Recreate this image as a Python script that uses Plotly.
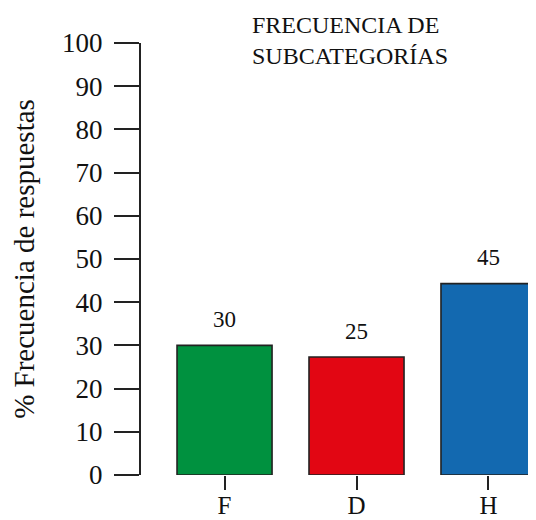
import plotly.graph_objects as go

categories = ["F", "D", "H"]
values = [30, 27.3, 44.3]
value_labels = ["30", "25", "45"]
colors = ["#00913F", "#E20613", "#1369B0"]
y_ticks = [0, 10, 20, 30, 40, 50, 60, 70, 80, 90, 100]

FONT = "Liberation Serif, 'Times New Roman', Times, serif"
INK = "#111111"

fig = go.Figure()
fig.add_trace(go.Bar(
    x=categories,
    y=values,
    width=0.72,
    marker=dict(color=colors, line=dict(color="#222222", width=1.6)),
    showlegend=False,
))

for cat, val, lab in zip(categories, values, value_labels):
    fig.add_annotation(
        x=cat, y=val, text=lab, showarrow=False,
        yshift=26, font=dict(family=FONT, size=23, color=INK),
    )

# chart title
fig.add_annotation(
    text="FRECUENCIA DE<br>SUBCATEGORÍAS",
    xref="paper", yref="paper",
    x=(242 - 133) / 395, xanchor="left",
    y=(467 - 2) / 432, yanchor="top",
    align="left", showarrow=False,
    font=dict(family=FONT, size=24, color=INK),
)

# page body has an 8px margin; figure sized so it ends at the window edge
fig.update_layout(
    width=528, height=512,
    margin=dict(l=133, r=0, t=35, b=45, autoexpand=False),
    paper_bgcolor="white", plot_bgcolor="white",
    font=dict(family=FONT, color=INK),
)

fig.update_xaxes(
    range=[-0.633, 2.36], automargin=False,
    showline=False, showgrid=False, zeroline=False,
    ticks="outside", ticklen=14, tickwidth=2, tickcolor="#222222",
    ticklabelstandoff=-6,
    tickfont=dict(family=FONT, size=25, color=INK),
)
fig.update_yaxes(
    range=[0, 100], automargin=False,
    tickvals=y_ticks,
    showline=True, linecolor="#222222", linewidth=2,
    showgrid=False, zeroline=False,
    ticks="outside", ticklen=25, tickwidth=2, tickcolor="#222222",
    ticklabelstandoff=6,
    tickfont=dict(family=FONT, size=27, color=INK),
    title=dict(text="% Frecuencia de respuestas",
               font=dict(family=FONT, size=29, color=INK),
               standoff=24),
)

fig.write_html("out.html")
